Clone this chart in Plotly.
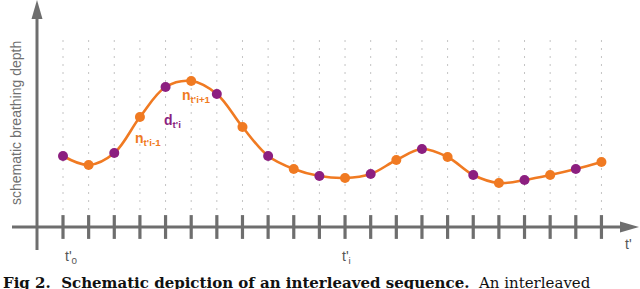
import plotly.graph_objects as go

# ---- data ----
steps = list(range(22))
depth = [71, 62, 74, 110, 140, 146, 133, 100, 71, 58, 51, 49, 53, 67, 78, 70, 52, 44, 47, 52, 58, 65]
purple_idx = [i for i in steps if i % 2 == 0]
orange_idx = [i for i in steps if i % 2 == 1]

ORANGE = "#f07a22"
PURPLE = "#8c1f80"
AXIS = "#6e6e6e"
W, H = 640, 289

fig = go.Figure()

# dotted vertical guides
gx, gy = [], []
for s in steps:
    gx += [s, s, None]
    gy += [9, 192, None]
fig.add_trace(go.Scatter(x=gx, y=gy, mode="lines",
                         line=dict(color="#c4c4c4", width=1, dash="2px,6px"),
                         hoverinfo="skip", showlegend=False))

# smooth curve
fig.add_trace(go.Scatter(x=steps, y=depth, mode="lines",
                         line=dict(color=ORANGE, width=2.6, shape="spline", smoothing=1.0),
                         hoverinfo="skip", showlegend=False))

# markers
fig.add_trace(go.Scatter(x=orange_idx, y=[depth[i] for i in orange_idx], mode="markers",
                         marker=dict(color=ORANGE, size=10), showlegend=False))
fig.add_trace(go.Scatter(x=purple_idx, y=[depth[i] for i in purple_idx], mode="markers",
                         marker=dict(color=PURPLE, size=10), showlegend=False))

# axis tick marks
fig.add_trace(go.Scatter(x=steps, y=[0] * len(steps), mode="markers",
                         marker=dict(symbol="line-ns", size=17, line=dict(color=AXIS, width=3.2)),
                         hoverinfo="skip", showlegend=False))

def px(x):
    return x / W

def py(y):
    return 1 - y / H

shapes = [
    dict(type="line", xref="paper", yref="paper", x0=px(37), x1=px(37), y0=py(17), y1=py(250),
         line=dict(color=AXIS, width=3)),
    dict(type="line", xref="paper", yref="paper", x0=px(12), x1=px(624), y0=py(227), y1=py(227),
         line=dict(color=AXIS, width=3)),
    dict(type="path", xref="paper", yref="paper",
         path=f"M {px(37)} {py(0)} L {px(31.5)} {py(19)} L {px(42.5)} {py(19)} Z",
         fillcolor=AXIS, line=dict(width=0)),
    dict(type="path", xref="paper", yref="paper",
         path=f"M {px(639)} {py(227)} L {px(620)} {py(221.5)} L {px(620)} {py(232.5)} Z",
         fillcolor=AXIS, line=dict(width=0)),
]

ann = []
def label(x, y, text, color, size, xanchor="center", yanchor="middle", angle=0, family="Liberation Sans, Arial, sans-serif"):
    ann.append(dict(x=px(x), y=py(y), xref="paper", yref="paper", text=text, showarrow=False,
                    font=dict(color=color, size=size, family=family),
                    xanchor=xanchor, yanchor=yanchor, textangle=angle))

label(16, 123, "schematic breathing depth", "#707070", 14, angle=-90)
label(63, 257, "t'<sub>0</sub>", "#555555", 14, xanchor="left")
label(340, 257, "t'<sub>i</sub>", "#555555", 14, xanchor="left")
label(623, 244, "t'", "#555555", 14, xanchor="left")
label(133, 139, "<b>n<sub>t'i-1</sub></b>", ORANGE, 14, xanchor="left")
label(162, 121, "<b>d<sub>t'i</sub></b>", PURPLE, 14, xanchor="left")
label(180, 96, "<b>n<sub>t'i+1</sub></b>", ORANGE, 14, xanchor="left")
ann.append(dict(x=px(1), y=py(272), xref="paper", yref="paper", showarrow=False,
                xanchor="left", yanchor="top",
                text="<b>Fig 2.  Schematic depiction of an interleaved sequence.</b>  An interleaved",
                font=dict(color="#111111", size=15, family="DejaVu Serif, serif")))

x0 = -63 / 25.64
fig.update_layout(
    width=W, height=H,
    margin=dict(l=0, r=0, t=0, b=0),
    paper_bgcolor="white", plot_bgcolor="white",
    xaxis=dict(range=[x0, x0 + W / 25.64], visible=False, fixedrange=True),
    yaxis=dict(range=[-62, 227], visible=False, fixedrange=True),
    shapes=shapes, annotations=ann, showlegend=False,
)

fig.write_html("out.html", config={"displayModeBar": False, "staticPlot": True},
               post_script="document.body.style.margin='0';document.body.style.padding='0';document.body.style.overflow='hidden';")
